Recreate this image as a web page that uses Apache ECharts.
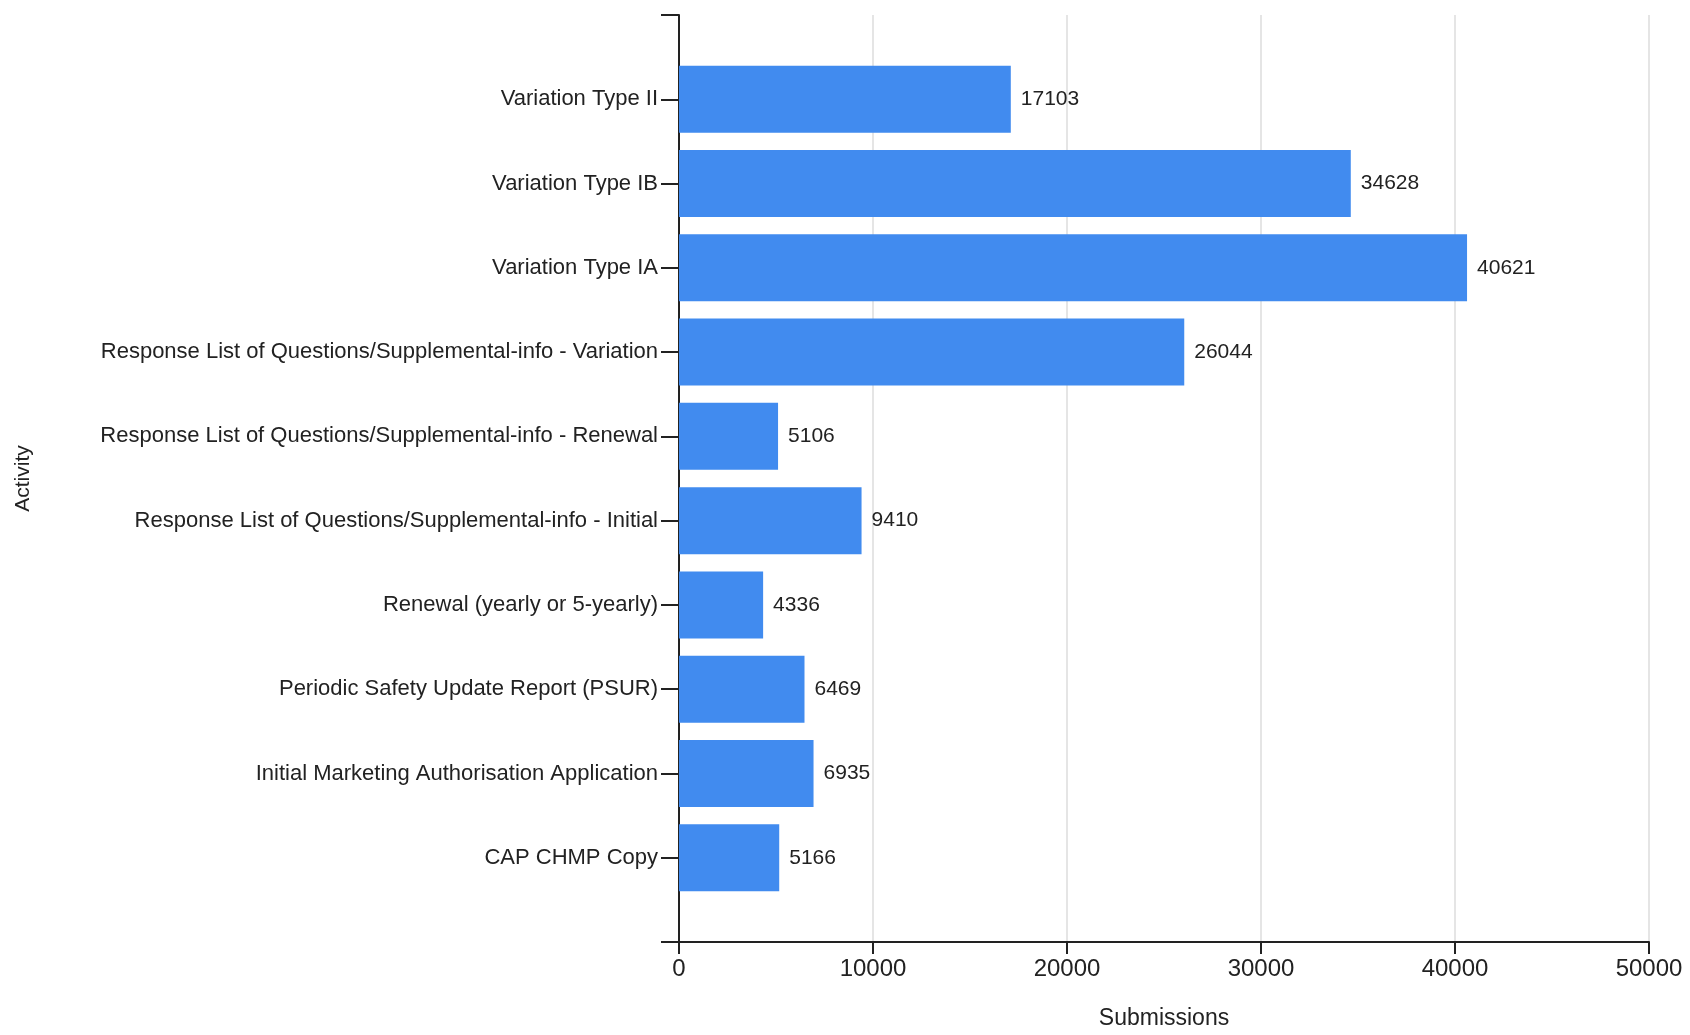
<!DOCTYPE html>
<html>
<head>
<meta charset="utf-8">
<script src="https://cdn.jsdelivr.net/npm/echarts@6/dist/echarts.min.js"></script>
<style>
html,body{margin:0;padding:0;background:#fff;}
#chart{width:1690px;height:1035px;}
</style>
</head>
<body>
<div id="chart"></div>
<script>
const categories = [
  'Variation Type II',
  'Variation Type IB',
  'Variation Type IA',
  'Response List of Questions/Supplemental-info - Variation',
  'Response List of Questions/Supplemental-info - Renewal',
  'Response List of Questions/Supplemental-info - Initial',
  'Renewal (yearly or 5-yearly)',
  'Periodic Safety Update Report (PSUR)',
  'Initial Marketing Authorisation Application',
  'CAP CHMP Copy'
];
const submissions = [17103, 34628, 40621, 26044, 5106, 9410, 4336, 6469, 6935, 5166];
const xTicks = [0, 10000, 20000, 30000, 40000, 50000];

// pad one empty slot on each end of the category axis
const axisCats = [''].concat(categories, ['']);
const axisVals = [null].concat(submissions, [null]);

const FONT = '"Liberation Sans", Arial, sans-serif';
const chart = echarts.init(document.getElementById('chart'), null, {renderer: 'canvas'});
chart.setOption({
  backgroundColor: '#ffffff',
  animation: false,
  grid: {left: 679, right: 41, top: 15, bottom: 87, containLabel: false},
  xAxis: {
    type: 'value',
    min: xTicks[0],
    max: xTicks[xTicks.length - 1],
    interval: xTicks[1] - xTicks[0],
    name: 'Submissions',
    nameLocation: 'middle',
    nameGap: 65,
    nameTextStyle: {fontFamily: FONT, fontSize: 23, color: '#222'},
    axisLine: {show: true, lineStyle: {color: '#222', width: 2}},
    axisTick: {show: true, length: 12, lineStyle: {color: '#222', width: 2}},
    axisLabel: {fontFamily: FONT, fontSize: 24, color: '#222', margin: 15,
      formatter: function (v) { return String(v); }},
    splitLine: {show: true, lineStyle: {color: '#dcdcdc', width: 1.5}}
  },
  yAxis: {
    type: 'category',
    data: axisCats,
    inverse: true,
    boundaryGap: false,
    name: 'Activity',
    nameLocation: 'middle',
    nameGap: 645,
    nameTextStyle: {fontFamily: FONT, fontSize: 21, color: '#222'},
    axisLine: {show: true, lineStyle: {color: '#222', width: 2}},
    axisTick: {show: true, length: 18, interval: 0, lineStyle: {color: '#222', width: 2}},
    axisLabel: {fontFamily: FONT, fontSize: 22, color: '#222', margin: 21, interval: 0},
    splitLine: {show: false}
  },
  series: [{
    type: 'bar',
    data: axisVals,
    barWidth: 67,
    itemStyle: {color: '#418bef'},
    label: {
      show: true,
      position: 'right',
      distance: 10,
      fontFamily: FONT,
      fontSize: 21,
      color: '#222'
    }
  }]
});
</script>
</body>
</html>
